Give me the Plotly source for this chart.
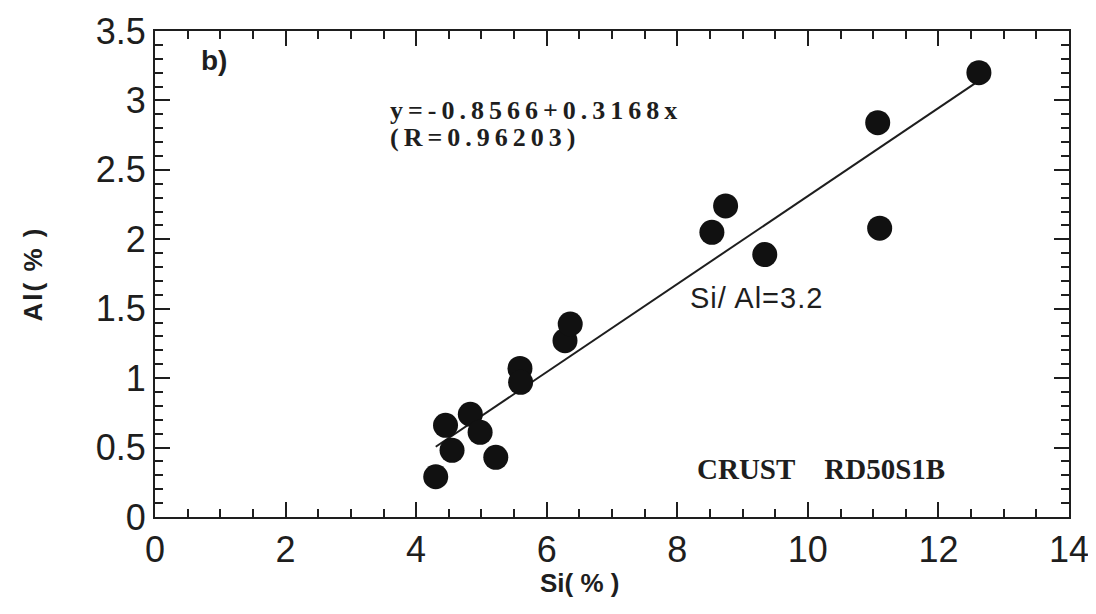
import plotly.graph_objects as go

si = [4.3, 4.45, 4.55, 4.83, 4.98, 5.22, 5.59, 5.6, 6.28, 6.36, 8.53, 8.74, 9.34, 11.07, 11.1, 12.62]
al = [0.29, 0.66, 0.48, 0.74, 0.61, 0.43, 1.07, 0.97, 1.27, 1.39, 2.05, 2.24, 1.89, 2.84, 2.08, 3.2]
intercept = -0.8566
slope = 0.3168
fit_x = [4.3, 12.6]
fit_y = [intercept + slope * v for v in fit_x]

x_ticks = [0, 2, 4, 6, 8, 10, 12, 14]
y_ticks = [0, 0.5, 1, 1.5, 2, 2.5, 3, 3.5]
y_tick_text = ["0", "0.5", "1", "1.5", "2", "2.5", "3", "3.5"]

INK = "#1e1e1e"
SANS = "Liberation Sans, Arial"
SERIF = "Liberation Serif, Times New Roman"

fig = go.Figure()
fig.add_trace(go.Scatter(x=fit_x, y=fit_y, mode="lines",
                         line=dict(color=INK, width=2), showlegend=False))
fig.add_trace(go.Scatter(x=si, y=al, mode="markers",
                         marker=dict(color="#111111", size=25, line=dict(width=0)),
                         showlegend=False))

axis_common = dict(showgrid=False, zeroline=False, showline=True, linecolor=INK,
                   linewidth=2, mirror="allticks", ticks="inside", ticklen=15,
                   tickwidth=2, tickcolor=INK, automargin=False,
                   tickfont=dict(family=SANS, size=36, color=INK))

fig.update_xaxes(range=[0, 14], tickvals=x_ticks, ticktext=[str(v) for v in x_ticks],
                 minor=dict(dtick=0.5, ticks="inside", ticklen=8, tickwidth=2, tickcolor=INK),
                 **axis_common)
fig.update_yaxes(range=[0, 3.5], tickvals=y_ticks, ticktext=y_tick_text,
                 minor=dict(dtick=0.1, ticks="inside", ticklen=8, tickwidth=2, tickcolor=INK),
                 title=dict(text="<b><span style='letter-spacing:2px'>Al( % )</span></b>",
                            font=dict(family=SANS, size=26, color=INK), standoff=46),
                 **axis_common)

# x-axis title (placed slightly left of centre, as in the original)
fig.add_annotation(xref="paper", yref="paper", x=0.464, y=-0.135, yanchor="middle",
                   text="<b>Si( % )</b>", showarrow=False,
                   font=dict(family=SANS, size=26, color=INK))

fig.add_annotation(x=0.9, y=3.29, text="<b>b)</b>", showarrow=False, xanchor="center",
                   font=dict(family=SANS, size=28, color=INK))
fig.add_annotation(x=3.57, y=2.93,
                   text="<span style='letter-spacing:5px'><b>y=-0.8566+0.3168x</b></span>",
                   showarrow=False, xanchor="left", yanchor="middle",
                   font=dict(family=SERIF, size=26, color=INK))
fig.add_annotation(x=3.57, y=2.736,
                   text="<span style='letter-spacing:5px'><b>(R=0.96203)</b></span>",
                   showarrow=False, xanchor="left", yanchor="middle",
                   font=dict(family=SERIF, size=26, color=INK))
fig.add_annotation(x=8.16, y=1.58, text="<span style='letter-spacing:1px'>Si/ Al=3.2</span>",
                   showarrow=False, xanchor="left",
                   font=dict(family=SANS, size=29, color=INK))
fig.add_annotation(x=8.27, y=0.345, text="<b>CRUST\u00a0\u00a0\u00a0\u00a0RD50S1B</b>", showarrow=False,
                   xanchor="left",
                   font=dict(family=SERIF, size=29, color=INK))

# the page body has an 8px margin, so margins are shifted to keep the plot area in place
fig.update_layout(width=1096, height=614, margin=dict(l=147, r=35, t=23, b=105),
                  plot_bgcolor="white", paper_bgcolor="white")
fig.write_html("out.html")
